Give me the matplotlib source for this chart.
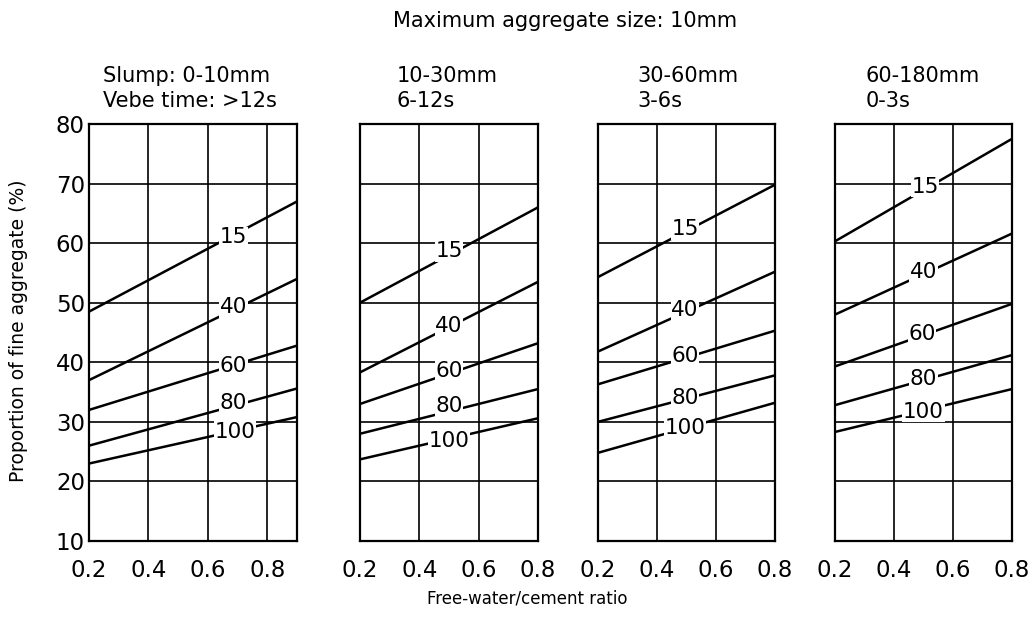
import matplotlib
matplotlib.use("Agg")
import matplotlib.pyplot as plt

# ---- data ----
headers = ["Slump: 0-10mm\nVebe time: >12s", "10-30mm\n6-12s", "30-60mm\n3-6s", "60-180mm\n0-3s"]
curve_labels = ["15", "40", "60", "80", "100"]
x_ends = [(0.2, 0.9), (0.2, 0.8), (0.2, 0.8), (0.2, 0.8)]
# start / end values of each line (per panel, per curve)
y_start = [
    [48.5, 37.0, 32.0, 26.0, 23.0],
    [50.0, 38.3, 33.0, 28.0, 23.7],
    [54.3, 41.8, 36.3, 30.0, 24.8],
    [60.3, 48.0, 39.3, 32.8, 28.3],
]
y_end = [
    [67.0, 54.0, 42.8, 35.6, 30.8],
    [66.0, 53.5, 43.2, 35.5, 30.6],
    [69.8, 55.2, 45.3, 37.8, 33.2],
    [77.5, 61.6, 49.8, 41.2, 35.5],
]
label_x = [
    [0.685, 0.685, 0.685, 0.685, 0.69],
    [0.50, 0.50, 0.50, 0.50, 0.50],
    [0.495, 0.495, 0.495, 0.495, 0.495],
    [0.505, 0.50, 0.495, 0.50, 0.50],
]
label_y = [
    [61.0, 49.3, 39.3, 33.2, 28.3],
    [58.6, 46.1, 38.5, 32.6, 26.8],
    [62.3, 48.8, 41.0, 34.0, 28.9],
    [69.5, 55.2, 44.8, 37.2, 31.7],
]
xticks = [0.2, 0.4, 0.6, 0.8]
yticks = [10, 20, 30, 40, 50, 60, 70, 80]

# ---- layout ----
fig = plt.figure(figsize=(10.33, 6.39), dpi=100)
lefts = [0.0862, 0.3485, 0.5789, 0.8083]
widths = [0.2014, 0.1723, 0.1713, 0.1713]
bottom, height = 0.1534, 0.6526
header_x = [0.0997, 0.3843, 0.6167, 0.8383]

for i in range(4):
    ax = fig.add_axes([lefts[i], bottom, widths[i], height])
    ax.set_xlim(*x_ends[i])
    ax.set_ylim(10, 80)
    for gx in [0.4, 0.6, 0.8]:
        if gx < x_ends[i][1]:
            ax.axvline(gx, color="black", lw=1.2, zorder=1)
    for gy in [20, 30, 40, 50, 60, 70]:
        ax.axhline(gy, color="black", lw=1.2, zorder=1)
    for j in range(5):
        ax.plot(list(x_ends[i]), [y_start[i][j], y_end[i][j]], color="black", lw=1.8,
                zorder=2, solid_capstyle="butt")
        ax.text(label_x[i][j], label_y[i][j], curve_labels[j], ha="center", va="center",
                fontsize=15.5, color="black", zorder=3,
                bbox=dict(facecolor="white", edgecolor="none", pad=0.5))
    for s in ax.spines.values():
        s.set_linewidth(1.6)
        s.set_zorder(4)
    ax.set_xticks(xticks)
    ax.set_xticklabels([f"{t:.1f}" for t in xticks])
    ax.tick_params(axis="both", length=0, labelsize=16.5, pad=13)
    if i == 0:
        ax.set_yticks(yticks)
        ax.set_yticklabels([str(t) for t in yticks])
        ax.tick_params(axis="y", pad=3)
    else:
        ax.set_yticks([])
    fig.text(header_x[i], 0.826, headers[i], ha="left", va="bottom", fontsize=15,
             linespacing=1.33)

fig.text(0.547, 0.967, "Maximum aggregate size: 10mm", ha="center", va="center", fontsize=15)
fig.text(0.51, 0.064, "Free-water/cement ratio", ha="center", va="center", fontsize=12)
fig.text(0.018, 0.483, "Proportion of fine aggregate (%)", ha="center", va="center",
         rotation=90, fontsize=13.5)

fig.savefig("out.png", dpi=100, facecolor="white")
